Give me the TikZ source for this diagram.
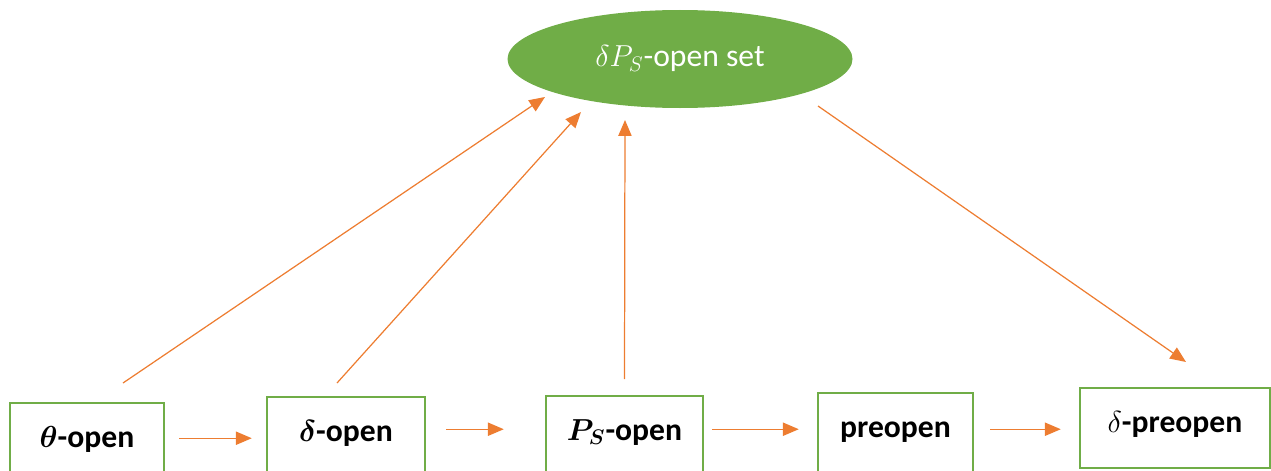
\documentclass[tikz,border=0pt]{standalone}
\usepackage{amsmath,amssymb}
\usepackage{fontspec}
\setmainfont{Carlito}
\usepackage{tikz}
\usetikzlibrary{arrows.meta,shapes.geometric,positioning,calc}

\definecolor{setgreen}{RGB}{112,173,71}
\definecolor{arroworange}{RGB}{237,125,49}

\begin{document}
\begin{tikzpicture}[>={Triangle[length=9pt,width=7.5pt]},
    every node/.style={font=\fontsize{18}{20}\selectfont},
    setbox/.style={draw=setgreen, line width=1.4pt, fill=white, anchor=north, minimum height=1.6cm, text height=0.44cm, text depth=0.28cm, font=\fontsize{18}{20}\selectfont\bfseries},
    link/.style={draw=arroworange, line width=0.7pt, ->}]
    \clip (0,0) rectangle (25.42,9.4);

    % Top set
    \node[ellipse, fill=setgreen, text=white, inner sep=0pt, minimum width=6.9cm, minimum height=1.96cm] (dps) at (13.6,8.22) {$\delta P_S$-open set};

    % Bottom row of boxes
    \node[setbox, minimum width=3.08cm] (theta) at (1.74,1.36) {$\boldsymbol{\theta}$-open};
    \node[setbox, minimum width=3.16cm] (delta) at (6.92,1.48) {$\boldsymbol{\delta}$-open};
    \node[setbox, minimum width=3.14cm] (ps) at (12.49,1.50) {$\boldsymbol{P_S}$-open};
    \node[setbox, minimum width=3.10cm] (pre) at (17.91,1.56) {preopen};
    \node[setbox, minimum width=3.80cm] (dpre) at (23.50,1.66) {$\delta$-preopen};

    % Horizontal chain
    \draw[link] ($(theta.east)+(0.28,0.1)$) -- ($(theta.east -| delta.west)+(-0.28,0.1)$);
    \draw[link] ($(delta.east)+(0.40,0.16)$) -- ($(delta.east -| ps.west)+(-0.82,0.16)$);
    \draw[link] ($(ps.east)+(0.16,0.14)$) -- ($(ps.east -| pre.west)+(-0.36,0.14)$);
    \draw[link] ($(pre.east)+(0.32,0.08)$) -- ($(pre.east -| dpre.west)+(-0.36,0.08)$);

    % Arrows to and from the top set
    \draw[link] ($(theta.north)+(0.72,0.38)$) -- ($(dps.center)+(-2.70,-0.76)$);
    \draw[link] ($(delta.north)+(-0.18,0.26)$) -- ($(dps.center)+(-1.98,-1.06)$);
    \draw[link] ($(ps.north)+(0,0.32)$) -- ($(dps.center)+(-1.10,-1.22)$);
    \draw[link] ($(dps.center)+(2.76,-0.94)$) -- ($(dpre.north)+(0.22,0.50)$);
\end{tikzpicture}
\end{document}
